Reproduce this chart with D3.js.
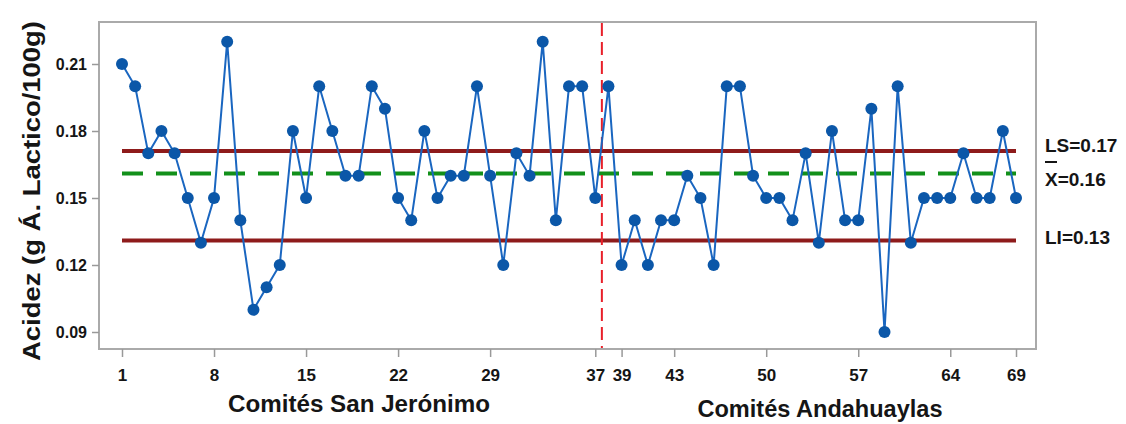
<!DOCTYPE html>
<html>
<head>
<meta charset="utf-8">
<script src="https://cdn.jsdelivr.net/npm/d3@7"></script>
<style>
  html, body { margin: 0; padding: 0; background: #fff; }
  svg { display: block; }
  text { font-family: "Liberation Sans", Arial, sans-serif; fill: #151515; }
</style>
</head>
<body>
<svg id="chart" width="1126" height="424"></svg>
<script>
// ---- data ----
const sampleIndex = d3.range(1, 70);
const acidez = [
  0.21, 0.20, 0.17, 0.18, 0.17, 0.15, 0.13, 0.15, 0.22, 0.14,
  0.10, 0.11, 0.12, 0.18, 0.15, 0.20, 0.18, 0.16, 0.16, 0.20,
  0.19, 0.15, 0.14, 0.18, 0.15, 0.16, 0.16, 0.20, 0.16, 0.12,
  0.17, 0.16, 0.22, 0.14, 0.20, 0.20, 0.15, 0.20, 0.12, 0.14,
  0.12, 0.14, 0.14, 0.16, 0.15, 0.12, 0.20, 0.20, 0.16, 0.15,
  0.15, 0.14, 0.17, 0.13, 0.18, 0.14, 0.14, 0.19, 0.09, 0.20,
  0.13, 0.15, 0.15, 0.15, 0.17, 0.15, 0.15, 0.18, 0.15
];
const limitLS = 0.171;
const meanX = 0.161;
const limitLI = 0.131;
const splitAt = 37.5;
const xTicks = [1, 8, 15, 22, 29, 37, 39, 43, 50, 57, 64, 69];
const yTicks = [0.09, 0.12, 0.15, 0.18, 0.21];
const limitLabels = ["LS=0.17", "=0.16", "LI=0.13"];
const groupLabels = ["Comités San Jerónimo", "Comités Andahuaylas"];
const yTitle = "Acidez (g Á. Lactico/100g)";

// ---- layout ----
const svg = d3.select("#chart");
const box = { left: 99, right: 1036, top: 22, bottom: 349 };
const x = d3.scaleLinear().domain([1, 69]).range([122, 1016]);
const y = d3.scaleLinear().domain([0.09, 0.21]).range([332, 64]);

// frame
svg.append("rect")
  .attr("x", box.left).attr("y", box.top)
  .attr("width", box.right - box.left).attr("height", box.bottom - box.top)
  .attr("fill", "none").attr("stroke", "#aaaaaa").attr("stroke-width", 2);

// y axis
const yAxis = svg.append("g").attr("transform", `translate(${box.left},0)`)
  .call(d3.axisLeft(y).tickValues(yTicks).tickFormat(d3.format(".2f")).tickSize(7).tickPadding(5));
yAxis.select(".domain").remove();
yAxis.selectAll("line").attr("stroke", "#999").attr("stroke-width", 1.5);
yAxis.selectAll("text").style("font-size", "16px").style("font-weight", "bold")
  .style("font-family", "'Liberation Sans', Arial, sans-serif").attr("fill", "#151515");

// x axis
const xAxis = svg.append("g").attr("transform", `translate(0,${box.bottom})`)
  .call(d3.axisBottom(x).tickValues(xTicks).tickFormat(d3.format("d")).tickSize(8).tickPadding(12));
xAxis.select(".domain").remove();
xAxis.selectAll("line").attr("stroke", "#999").attr("stroke-width", 1.5);
xAxis.selectAll("text").style("font-size", "17px").style("font-weight", "bold")
  .style("font-family", "'Liberation Sans', Arial, sans-serif").attr("fill", "#151515");

// control lines
const x0 = x(1), x1 = x(69);
svg.append("line").attr("x1", x0).attr("x2", x1)
  .attr("y1", y(limitLS)).attr("y2", y(limitLS))
  .attr("stroke", "#8e1b1b").attr("stroke-width", 4);
svg.append("line").attr("x1", x0).attr("x2", x1)
  .attr("y1", y(limitLI)).attr("y2", y(limitLI))
  .attr("stroke", "#8e1b1b").attr("stroke-width", 4);
svg.append("line").attr("x1", x0).attr("x2", x1)
  .attr("y1", y(meanX)).attr("y2", y(meanX))
  .attr("stroke", "#12901a").attr("stroke-width", 4)
  .attr("stroke-dasharray", "21,13");

// split line
svg.append("line").attr("x1", x(splitAt)).attr("x2", x(splitAt))
  .attr("y1", box.top + 1).attr("y2", box.bottom - 1)
  .attr("stroke", "#e8202a").attr("stroke-width", 2)
  .attr("stroke-dasharray", "13,6");

// series
const pts = sampleIndex.map((i, k) => [i, acidez[k]]);
svg.append("path").datum(pts)
  .attr("fill", "none").attr("stroke", "#1a66c0").attr("stroke-width", 2)
  .attr("d", d3.line().x(d => x(d[0])).y(d => y(d[1])));
svg.append("g").selectAll("circle").data(pts).join("circle")
  .attr("cx", d => x(d[0])).attr("cy", d => y(d[1])).attr("r", 6)
  .attr("fill", "#0b57a8");

// limit labels
const lab = svg.append("g").style("font-size", "19px").style("font-weight", "bold");
lab.append("text").attr("x", 1045).attr("y", 152).text(limitLabels[0]);
lab.append("text").attr("x", 1045).attr("y", 186).text("X" + limitLabels[1]);
lab.append("line").attr("x1", 1045).attr("x2", 1057).attr("y1", 162).attr("y2", 162)
  .attr("stroke", "#151515").attr("stroke-width", 2);
lab.append("text").attr("x", 1045).attr("y", 244).text(limitLabels[2]);

// group titles
svg.append("text").attr("x", 359).attr("y", 412).attr("text-anchor", "middle")
  .style("font-size", "23px").style("font-weight", "bold")
  .attr("textLength", 262).attr("lengthAdjust", "spacingAndGlyphs")
  .text(groupLabels[0]);
svg.append("text").attr("x", 820).attr("y", 417).attr("text-anchor", "middle")
  .style("font-size", "23px").style("font-weight", "bold")
  .attr("textLength", 245).attr("lengthAdjust", "spacingAndGlyphs")
  .text(groupLabels[1]);

// y title
svg.append("text")
  .attr("transform", "translate(40,191) rotate(-90)")
  .attr("text-anchor", "middle")
  .style("font-size", "23px").style("font-weight", "bold")
  .attr("textLength", 340).attr("lengthAdjust", "spacingAndGlyphs")
  .text(yTitle);
</script>
</body>
</html>
